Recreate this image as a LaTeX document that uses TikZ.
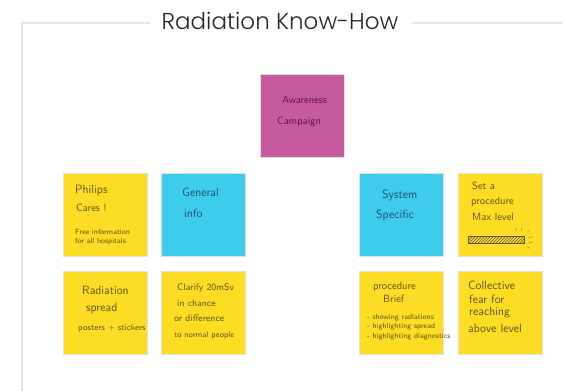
\documentclass[tikz,border=0pt]{standalone}
\usepackage{fontspec}
\setmainfont{Poppins}[UprightFont={* Light}]
\newfontfamily\handfont{Latin Modern Sans}
\usetikzlibrary{patterns}
\definecolor{noteyellow}{HTML}{FDDC24}
\definecolor{noteblue}{HTML}{3ECCEB}
\definecolor{notemag}{HTML}{C65A9F}
\definecolor{framegray}{HTML}{E6E6E6}
\definecolor{inkyellow}{HTML}{5E5422}
\definecolor{inkblue}{HTML}{1E4E72}
\definecolor{inkmag}{HTML}{5C1444}
\tikzset{
  note/.style={draw=black!12, line width=0.8pt, minimum width=84pt, minimum height=83pt, inner sep=0pt, anchor=north west},
  hand/.style={anchor=west, inner sep=0pt, font=\handfont\fontsize{10.5}{10.5}\selectfont},
  smallhand/.style={anchor=west, inner sep=0pt, font=\handfont\fontsize{7.5}{7.5}\selectfont},
}
\begin{document}
\begin{tikzpicture}[x=1pt,y=-1pt]
\useasboundingbox (0,0) rectangle (563,391);
% frame
\coordinate (f1) at (22,23);
\coordinate (f2) at (150,23);
\coordinate (f3) at (412,23);
\coordinate (f4) at (563,23);
\coordinate (f5) at (22,391);
\draw[framegray, line width=1.5pt] (f2) -- (f1) -- (f5);
\draw[framegray, line width=1.5pt] (f3) -- (f4);
\node[inner sep=0pt, font=\fontsize{23}{23}\selectfont, text=black!85] (title) at (280,21) {Radiation Know-How};
% notes
\node[note, fill=notemag] (aw) at (260,74) {};
\node[note, fill=noteyellow] (ph) at (63,173) {};
\node[note, fill=noteblue] (gi) at (161,173) {};
\node[note, fill=noteblue] (ss) at (359,173) {};
\node[note, fill=noteyellow] (sp) at (458,173) {};
\node[note, fill=noteyellow] (rs) at (63,271) {};
\node[note, fill=noteyellow] (cl) at (161,271) {};
\node[note, fill=noteyellow] (pb) at (359,271) {};
\node[note, fill=noteyellow] (cf) at (458,271) {};
% texts
\node[hand, text=inkmag] (aw1) at (282,100) {Awareness};
\node[hand, text=inkmag] (aw2) at (277,122) {Campaign};

\node[hand, text=inkyellow, font=\handfont\fontsize{12}{12}\selectfont] (ph1) at (75,190) {Philips};
\node[hand, text=inkyellow] (ph2) at (76,208) {Cares !};
\node[smallhand, text=inkyellow] (ph3) at (75,232) {Free information};
\node[smallhand, text=inkyellow] (ph4) at (75,242) {for all hospitals};

\node[hand, text=inkblue, font=\handfont\fontsize{12}{12}\selectfont] (gi1) at (182,192) {General};
\node[hand, text=inkblue, font=\handfont\fontsize{12}{12}\selectfont] (gi2) at (184,213) {info};

\node[hand, text=inkblue, font=\handfont\fontsize{12}{12}\selectfont] (ss1) at (382,195) {System};
\node[hand, text=inkblue, font=\handfont\fontsize{12}{12}\selectfont] (ss2) at (376,215) {Specific};

\node[hand, text=inkyellow] (sp1) at (472,186) {Set a};
\node[hand, text=inkyellow] (sp2) at (471,202) {procedure};
\node[hand, text=inkyellow] (sp3) at (472,217) {Max level};
\node[draw=inkyellow, line width=0.5pt, pattern=north east lines, pattern color=inkyellow, minimum width=56pt, minimum height=7pt, inner sep=0pt, anchor=north west] (bar) at (468,236) {};
\draw[inkyellow, line width=0.3pt] (bar.north east) ++(3,-4) -- ++(2,-2) (bar.east) ++(4,-2) -- ++(4,-1) (bar.east) ++(4,2) -- ++(4,1) (bar.south east) ++(3,3) -- ++(2,2) (bar.north east) ++(-3,-5) -- ++(0,-3) (bar.north east) ++(-8,-5) -- ++(-1,-3);

\node[hand, text=inkyellow, font=\handfont\fontsize{12}{12}\selectfont] (rs1) at (82,290) {Radiation};
\node[hand, text=inkyellow, font=\handfont\fontsize{12}{12}\selectfont] (rs2) at (86,308) {spread};
\node[smallhand, text=inkyellow, font=\handfont\fontsize{8.5}{8.5}\selectfont] (rs3) at (78,328) {posters + stickers};

\node[hand, text=inkyellow, font=\handfont\fontsize{9.5}{9.5}\selectfont] (cl1) at (177,288) {Clarify 20mSv};
\node[hand, text=inkyellow, font=\handfont\fontsize{9.5}{9.5}\selectfont] (cl2) at (177,303) {in chance};
\node[hand, text=inkyellow, font=\handfont\fontsize{9.5}{9.5}\selectfont] (cl3) at (174,318) {or difference};
\node[smallhand, text=inkyellow, font=\handfont\fontsize{8}{8}\selectfont] (cl4) at (174,335) {to normal people};

\node[hand, text=inkyellow] (pb1) at (373,287) {procedure};
\node[hand, text=inkyellow] (pb2) at (383,299) {Brief};
\node[smallhand, text=inkyellow] (pb3) at (367,318) {- showing radiations};
\node[smallhand, text=inkyellow] (pb4) at (367,327) {- highlighting spread};
\node[smallhand, text=inkyellow] (pb5) at (367,337) {- highlighting diagnostics};

\node[hand, text=inkyellow, font=\handfont\fontsize{12}{12}\selectfont] (cf1) at (468,285) {Collective};
\node[hand, text=inkyellow, font=\handfont\fontsize{12}{12}\selectfont] (cf2) at (469,299) {fear for};
\node[hand, text=inkyellow, font=\handfont\fontsize{12}{12}\selectfont] (cf3) at (469,313) {reaching};
\node[hand, text=inkyellow, font=\handfont\fontsize{12}{12}\selectfont] (cf4) at (468,328) {above level};
\end{tikzpicture}
\end{document}
